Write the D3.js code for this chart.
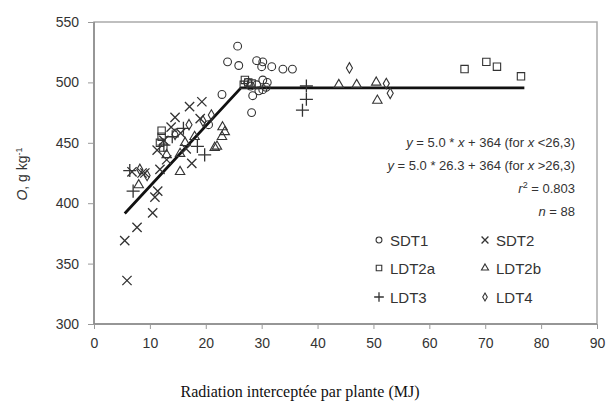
<!DOCTYPE html>
<html><head><meta charset="utf-8">
<script src="https://cdn.jsdelivr.net/npm/d3@7"></script>
<style>body{margin:0;background:#fff}svg{display:block}</style>
</head><body>
<svg id="c" width="608" height="403"></svg>
<script>
const xTicks=[0,10,20,30,40,50,60,70,80,90];
const yTicks=[300,350,400,450,500,550];
const seriesNames=["SDT1","SDT2","LDT2a","LDT2b","LDT3","LDT4"];
const sdt1=[[25.7,530],[23.9,517],[25.9,514],[29.1,518],[30.2,517],[30,513],[31.8,513],[33.8,511],[35.5,511],[22.9,490],[28.2,475],[28.4,489],[30.2,502],[30.2,494],[29.1,498],[27.5,500],[28,497],[31,500],[30.8,496],[29.5,493],[20.5,465]];
const sdt2=[[5.9,336],[5.5,369],[7.7,380],[10.5,392],[10.9,405],[11.4,410],[17.1,480],[19.3,484],[14.5,471],[11.3,444],[17.5,433],[11.8,428],[9.1,425],[6.8,426],[8.6,425],[12.5,452],[13.8,463],[15.5,458],[16.5,445],[19,470],[13,436]];
const ldt2a=[[12.1,460],[12.1,455],[11.8,450],[12.4,446],[27,502],[27.6,500],[28.2,499],[26.8,498],[66.3,511],[70.2,517],[72.1,513],[76.4,505]];
const ldt2b=[[23,463],[22.9,455],[22,447],[15.4,426],[15.4,441],[16.3,450],[23.4,459],[21.6,446],[13,440],[18,455],[43.8,498],[47,498],[50.5,500],[50.7,485],[8,415]];
const ldt3=[[38,486],[37.3,477],[38,497],[19.8,440],[6.4,427],[7,410],[12.5,448],[16,462],[14,455],[18.5,447]];
const ldt4=[[45.7,512],[52.3,499],[53,491],[8.2,428],[9.5,423],[14.5,457],[17,465],[19.5,468],[21,473]];
const fitLine=[[5.5,391.5],[26.3,495.5],[77,495.5]];

const svg=d3.select("#c");
const x=d3.scaleLinear().domain([0,90]).range([94,597]);
const y=d3.scaleLinear().domain([300,550]).range([324,22]);
const col="#333";

svg.append("rect").attr("x",94).attr("y",22).attr("width",503).attr("height",302)
 .attr("fill","none").attr("stroke","#aaa").attr("stroke-width",1.5);
svg.append("line").attr("x1",94).attr("x2",94).attr("y1",22).attr("y2",324).attr("stroke","#888").attr("stroke-width",1.5);
svg.append("line").attr("x1",94).attr("x2",597).attr("y1",324).attr("y2",324).attr("stroke","#888").attr("stroke-width",1.5);

const xa=svg.append("g").attr("transform","translate(0,324)").call(d3.axisBottom(x).tickValues(xTicks).tickSize(5).tickPadding(9).tickFormat(d3.format("d")));
const ya=svg.append("g").attr("transform","translate(94,0)").call(d3.axisLeft(y).tickValues(yTicks).tickSize(6).tickPadding(9).tickFormat(d3.format("d")));
[xa,ya].forEach(a=>{a.select(".domain").remove();a.selectAll("line").attr("stroke","#999");
 a.selectAll("text").attr("font-family","Liberation Sans, Arial, sans-serif").attr("font-size",14).attr("fill","#333");});

svg.append("path").datum(fitLine).attr("d",d3.line().x(d=>x(d[0])).y(d=>y(d[1])))
 .attr("fill","none").attr("stroke","#111").attr("stroke-width",2.8);

function marker(g,type,s){
  const p=g.append("path").attr("fill","none").attr("stroke",col).attr("stroke-width",1.1);
  if(type==="circle") p.attr("d",d3.symbol(d3.symbolCircle,s*s*0.75)());
  else if(type==="x") p.attr("d",d3.symbol(d3.symbolTimes,s*s*0.9)()).attr("stroke-width",1.3);
  else if(type==="square") p.attr("d",d3.symbol(d3.symbolSquare,s*s*0.85)());
  else if(type==="triangle") p.attr("d",d3.symbol(d3.symbolTriangle,s*s*0.6)());
  else if(type==="plus") p.attr("d",d3.symbol(d3.symbolPlus,s*s*0.9)()).attr("stroke-width",1.3);
  else if(type==="diamond") p.attr("d",d3.symbol(d3.symbolDiamond,s*s*0.5)());
}
const series=[[sdt1,"circle"],[sdt2,"x"],[ldt2a,"square"],[ldt2b,"triangle"],[ldt3,"plus"],[ldt4,"diamond"]];
series.forEach(([data,type])=>{
  data.forEach(d=>{const g=svg.append("g").attr("transform",`translate(${x(d[0])},${y(d[1])})`);marker(g,type,8);});
});

const eqY=[147,170,193,216];
const ff="Liberation Sans, Arial, sans-serif";
function eq(i,parts){
  const t=svg.append("text").attr("x",575).attr("y",eqY[i]).attr("text-anchor","end").attr("font-family",ff).attr("font-size",13).attr("fill","#333");
  parts.forEach(p=>{const s=t.append("tspan").text(p[0]);if(p[1]==="i")s.attr("font-style","italic");if(p[1]==="sup")s.attr("dy",-5).attr("font-size",9);if(p[1]==="after")s.attr("dy",5);});
}
eq(0,[["y","i"],[" = 5.0 * "],["x","i"],[" + 364 (for "],["x","i"],[" <26,3)"]]);
eq(1,[["y","i"],[" = 5.0 * 26.3 + 364 (for "],["x","i"],[" >26,3)"]]);
eq(2,[["r","i"],["2","sup"],[" = 0.803","after"]]);
eq(3,[["n","i"],[" = 88"]]);

const legPos=[[379,240],[485,240],[379,268],[485,268],[379,297],[485,297]];
series.forEach(([data,type],i)=>{
  const g=svg.append("g").attr("transform",`translate(${legPos[i][0]},${legPos[i][1]})`);
  marker(g,type,6);
  svg.append("text").attr("x",legPos[i][0]+11).attr("y",legPos[i][1]+5.5).attr("font-family",ff).attr("font-size",15).attr("fill","#333").text(seriesNames[i]);
});

const yl=svg.append("text").attr("transform","translate(27,174) rotate(-90)").attr("text-anchor","middle").attr("font-family",ff).attr("font-size",14).attr("fill","#333");
yl.append("tspan").attr("font-style","italic").text("O");
yl.append("tspan").text(", g kg");
yl.append("tspan").attr("dy",-5).attr("font-size",9).text("-1");
svg.append("text").attr("x",300).attr("y",397).attr("text-anchor","middle").attr("font-family","Liberation Serif, Times New Roman, serif").attr("font-size",16).attr("fill","#111").text("Radiation interceptée par plante (MJ)");
</script>
</body></html>
